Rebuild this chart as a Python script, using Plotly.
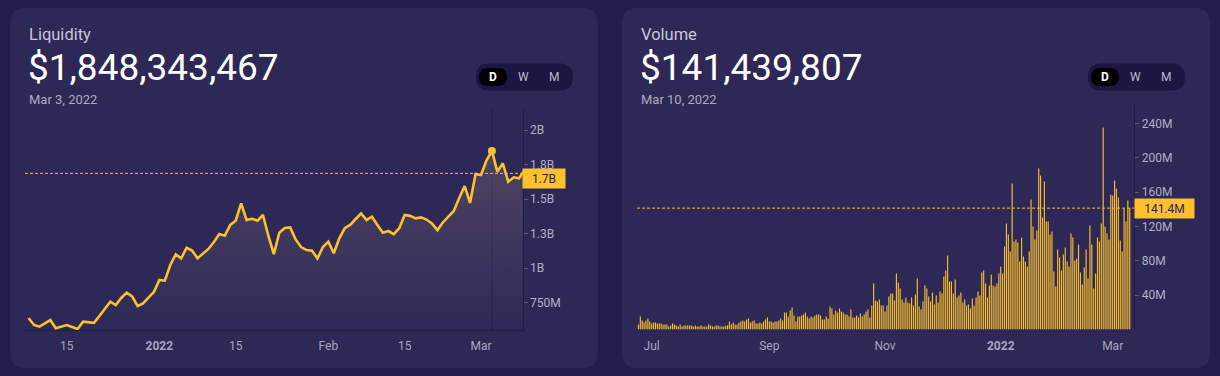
import plotly.graph_objects as go
import pandas as pd

W, H = 1220, 376


def px(x):
    return x / W


def py(y):
    return 1 - y / H


# ---------------- DATA ----------------
# Liquidity (millions USD), daily from 2021-12-08
liq_values_m = [
    638, 587, 575, 602, 623, 563, 576, 587, 572, 558,
    611, 605, 603, 652, 707, 756, 732, 783, 821, 794,
    725, 744, 786, 826, 913, 908, 1022, 1098, 1070, 1147,
    1127, 1070, 1105, 1138, 1188, 1246, 1234, 1312, 1343, 1469,
    1348, 1357, 1343, 1384, 1232, 1101, 1256, 1290, 1294, 1207,
    1152, 1130, 1125, 1070, 1152, 1191, 1107, 1215, 1288, 1312,
    1355, 1395, 1348, 1372, 1312, 1256, 1268, 1246, 1288, 1384,
    1378, 1360, 1367, 1351, 1322, 1275, 1330, 1370, 1413, 1507,
    1594, 1473, 1681, 1674, 1778, 1848.343467, 1698, 1759, 1625, 1657,
    1650, 1710,
]
liq_start = "2021-12-08"
liq_selected_date = "2022-03-03"
liq_selected_value = 1848343467
liq_guide = 1.686e9          # dashed guide line
liq_last = 1.65e9            # value shown in the axis label box
liq_last_label = "1.7B"

# Volume (millions USD), daily from 2021-06-24 to 2022-03-10
vol_values_m = [
    5.8, 15.1, 10.5, 8.2, 10.5, 12.8, 9.3, 7.0, 8.2, 8.2,
    7.0, 7.0, 7.0, 5.8, 5.8, 5.8, 3.5, 4.7, 7.0, 5.8,
    4.7, 3.5, 5.8, 3.5, 4.7, 4.7, 4.7, 4.7, 4.7, 3.5,
    4.7, 3.5, 3.5, 4.7, 3.5, 3.5, 3.5, 5.8, 4.7, 3.5, 3.5,
    4.7, 4.7, 3.5, 3.5, 3.5, 4.7, 4.7, 9.3, 5.8, 8.2,
    5.8, 5.8, 8.2, 9.3, 10.5, 9.3, 11.7, 12.8, 8.2, 9.3,
    10.5, 7.0, 7.0, 8.2, 7.0, 9.3, 11.7, 14.0, 9.3, 9.3,
    8.2, 9.3, 9.3, 10.5, 12.8, 10.5, 19.8, 19.8, 15.1, 22.1,
    25.6, 16.3, 9.3, 15.1, 15.1, 16.3, 17.5, 19.8, 15.1, 12.8,
    15.1, 14.0, 16.3, 17.5, 17.5, 16.3, 11.7, 11.7, 15.1, 12.8,
    26.8, 24.5, 17.5, 22.1, 19.8, 24.5, 21.0, 19.8, 17.5, 17.5,
    15.1, 23.3, 14.0, 14.0, 16.3, 14.0, 18.6, 15.1, 17.5, 21.0,
    23.3, 14.0, 28.0, 53.6, 33.8, 32.6, 35.0, 28.0, 28.0, 21.0,
    28.0, 38.4, 41.9, 41.9, 33.8, 65.2, 54.8, 47.8, 35.0, 31.5,
    37.3, 31.5, 30.3, 37.3, 28.0, 40.8, 59.4, 26.8, 23.3, 32.6,
    51.3, 47.8, 38.4,
    32.6, 43.1, 29.1, 39.6, 31.5, 44.3, 41.9, 61.7, 68.7, 86.2,
    55.9, 55.9, 41.9, 58.3, 37.3, 39.6, 43.1, 31.5, 35.0, 28.0,
    29.1, 24.5, 36.1, 28.0, 37.3, 44.3, 39.6, 66.4, 68.7, 53.6,
    37.3, 51.3, 64.1, 51.3, 50.1, 53.6, 65.2, 73.4, 65.2, 96.7,
    123.5, 110.7, 90.9, 170.1, 102.5, 104.9, 101.4, 79.2, 107.2, 85.0,
    79.2, 73.4, 90.9,
    151.5, 120.0, 104.9, 115.3, 187.6, 179.4, 130.5, 172.4, 125.8, 125.8,
    110.7, 114.2, 67.6, 50.1, 93.2, 83.9, 68.7, 87.4, 95.5, 79.2,
    73.4, 111.8, 107.2, 80.4, 82.7, 99.0, 66.4, 52.4, 72.2, 93.2,
    59.4, 121.2, 99.0, 47.8, 65.2, 107.2, 102.5, 123.5, 235.3, 120.0,
    111.8, 104.9, 157.3, 156.1, 173.6, 164.3, 153.8, 103.7, 90.9, 141.0,
    125.8, 150.3, 141.439807,
]
vol_end = "2022-03-10"
vol_selected_value = 141439807
vol_last_label = "141.4M"

liq_tick_vals = [750e6, 1e9, 1.25e9, 1.5e9, 1.75e9, 2e9]
liq_tick_text = ["750M", "1B", "1.3B", "1.5B", "1.8B", "2B"]
liq_x_tick_vals = ["2021-12-15", "2022-01-01", "2022-01-15", "2022-02-01", "2022-02-15", "2022-03-01"]
liq_x_tick_text = ["15", "<b>2022</b>", "15", "Feb", "15", "Mar"]

vol_tick_vals = [40e6, 80e6, 120e6, 160e6, 200e6, 240e6]
vol_tick_text = ["40M", "80M", "120M", "160M", "200M", "240M"]
vol_x_tick_vals = ["2021-07-01", "2021-09-01", "2021-11-01", "2022-01-01", "2022-03-01"]
vol_x_tick_text = ["Jul", "Sep", "Nov", "<b>2022</b>", "Mar"]

# ---------------- STYLE ----------------
PAGE = "#231d4d"
CARD = "#2d2856"
YELLOW = "#fcc12c"
TICK = "#b3afc8"
XTICK = "#a9a5bf"
AXLINE = "#221d47"
FONT = "Roboto"

liq_dates = pd.date_range(liq_start, periods=len(liq_values_m), freq="D")
liq = [v * 1e6 for v in liq_values_m]
vol_dates = pd.date_range(end=vol_end, periods=len(vol_values_m), freq="D")
vol = [v * 1e6 for v in vol_values_m]

fig = go.Figure()

fig.add_trace(go.Scatter(
    x=liq_dates, y=liq, mode="lines",
    line=dict(color=YELLOW, width=2.6),
    fill="tozeroy",
    fillgradient=dict(type="vertical", start=550e6, stop=1.9e9,
                      colorscale=[[0, "rgba(250,215,165,0.0)"], [1, "rgba(250,215,165,0.17)"]]),
    xaxis="x", yaxis="y", hoverinfo="skip", showlegend=False,
))
sel_idx = list(liq_dates.strftime("%Y-%m-%d")).index(liq_selected_date)
fig.add_trace(go.Scatter(
    x=[liq_dates[sel_idx]], y=[liq[sel_idx]], mode="markers",
    marker=dict(color=YELLOW, size=8), xaxis="x", yaxis="y", showlegend=False,
))

fig.add_trace(go.Bar(
    x=vol_dates, y=vol, marker=dict(color="rgba(252,193,44,0.99)", line=dict(width=0)),
    xaxis="x2", yaxis="y2", showlegend=False,
))


def rounded_rect(x0, y0, x1, y1, r):
    rx, ry = r / W, r / H
    X0, X1 = px(x0), px(x1)
    Y0, Y1 = py(y0), py(y1)  # Y0 top (larger), Y1 bottom
    return (f"M {X0+rx},{Y0} L {X1-rx},{Y0} Q {X1},{Y0} {X1},{Y0-ry} "
            f"L {X1},{Y1+ry} Q {X1},{Y1} {X1-rx},{Y1} L {X0+rx},{Y1} "
            f"Q {X0},{Y1} {X0},{Y1+ry} L {X0},{Y0-ry} Q {X0},{Y0} {X0+rx},{Y0} Z")


shapes = []
annotations = []

cards = [(10, 8, 598, 368), (622, 8, 1210, 368)]
for (x0, y0, x1, y1) in cards:
    shapes.append(dict(type="path", path=rounded_rect(x0, y0, x1, y1, 16),
                       xref="paper", yref="paper", fillcolor=CARD, line=dict(width=0), layer="below"))

headers = [
    (27, "Liquidity", f"${liq_selected_value:,}", "Mar 3, 2022", 476),
    (639, "Volume", f"${vol_selected_value:,}", "Mar 10, 2022", 1088),
]
for (x, title, big, date, pill_x) in headers:
    annotations.append(dict(x=px(x), y=py(34), xref="paper", yref="paper", text=title, showarrow=False,
                            xanchor="left", yanchor="middle", font=dict(family=FONT, size=16.5, color="#c9c6da")))
    annotations.append(dict(x=px(x - 1), y=py(67), xref="paper", yref="paper", text=big, showarrow=False,
                            xanchor="left", yanchor="middle", font=dict(family=FONT, size=37, color="#ffffff")))
    annotations.append(dict(x=px(x), y=py(99), xref="paper", yref="paper", text=date, showarrow=False,
                            xanchor="left", yanchor="middle", font=dict(family=FONT, size=13, color="#aeaac3")))
    # D / W / M pill
    shapes.append(dict(type="path", path=rounded_rect(pill_x, 63.5, pill_x + 97, 90.5, 13.5),
                       xref="paper", yref="paper", fillcolor="#1b1642", line=dict(width=0), layer="below"))
    shapes.append(dict(type="path", path=rounded_rect(pill_x + 3, 68, pill_x + 31, 86, 9),
                       xref="paper", yref="paper", fillcolor="#000000", line=dict(width=0), layer="below"))
    for lbl, dx, col, bold in [("D", 17, "#ffffff", True), ("W", 47, "#bdb9d1", False), ("M", 78, "#bdb9d1", False)]:
        annotations.append(dict(x=px(pill_x + dx), y=py(77.5), xref="paper", yref="paper",
                                text=f"<b>{lbl}</b>" if bold else lbl, showarrow=False,
                                xanchor="center", yanchor="middle", font=dict(family=FONT, size=12, color=col)))

# dashed guide lines and axis label boxes
shapes.append(dict(type="line", xref="x domain", yref="y", x0=0, x1=1, y0=liq_guide, y1=liq_guide,
                   line=dict(color=YELLOW, width=1, dash="3px,2px")))
shapes.append(dict(type="line", xref="x2 domain", yref="y2", x0=0, x1=1,
                   y0=vol[-1], y1=vol[-1], line=dict(color=YELLOW, width=1, dash="3px,2px")))
annotations.append(dict(x=px(522), y=liq_last, xref="paper", yref="y", text=liq_last_label,
                        showarrow=False, xanchor="left", yanchor="middle", bgcolor=YELLOW,
                        width=38, height=15, borderpad=2, align="center",
                        font=dict(family=FONT, size=12, color="#2a2450")))
annotations.append(dict(x=px(1134), y=vol[-1], xref="paper", yref="y2", text=vol_last_label,
                        showarrow=False, xanchor="left", yanchor="middle", bgcolor=YELLOW,
                        width=55, height=15, borderpad=2, align="center",
                        font=dict(family=FONT, size=12, color="#2a2450")))
shapes.append(dict(type="line", xref="paper", yref="y", x0=px(522.5), x1=px(527), y0=liq_last, y1=liq_last,
                   line=dict(color="#111111", width=1)))
shapes.append(dict(type="line", xref="paper", yref="y2", x0=px(1134.5), x1=px(1139), y0=vol[-1], y1=vol[-1],
                   line=dict(color="#111111", width=1)))
# crosshair at selected date
shapes.append(dict(type="line", xref="x", yref="y domain", x0=liq_dates[sel_idx], x1=liq_dates[sel_idx],
                   y0=0, y1=1, line=dict(color=AXLINE, width=1), layer="below"))

axis_common = dict(showgrid=False, zeroline=False, fixedrange=True)

fig.update_layout(
    width=W, height=H,
    margin=dict(l=0, r=0, t=0, b=0),
    paper_bgcolor=PAGE, plot_bgcolor="rgba(0,0,0,0)",
    showlegend=False, bargap=0.4,
    shapes=shapes, annotations=annotations,
    xaxis=dict(domain=[px(25), px(522.7)], range=["2021-12-07 08:24", "2022-03-08 15:36"], anchor="y",
               tickvals=liq_x_tick_vals, ticktext=liq_x_tick_text, ticks="outside", ticklen=5,
               tickcolor="rgba(0,0,0,0)", showline=True, linecolor=AXLINE,
               tickfont=dict(family=FONT, size=12, color=XTICK), **axis_common),
    yaxis=dict(domain=[py(330), py(108)], range=[550.8e6, 2159.4e6], anchor="x", side="right",
               tickvals=liq_tick_vals, ticktext=liq_tick_text, ticks="outside", ticklen=4, tickcolor="#5d5878",
               showline=True, linecolor=AXLINE,
               tickfont=dict(family=FONT, size=12, color=TICK), **axis_common),
    xaxis2=dict(domain=[px(637), px(1134.3)], range=["2021-06-23 06:00", "2022-03-12 09:36"], anchor="y2",
                tickvals=vol_x_tick_vals, ticktext=vol_x_tick_text, ticks="outside", ticklen=5,
                tickcolor="rgba(0,0,0,0)", showline=False,
                tickfont=dict(family=FONT, size=12, color=XTICK), **axis_common),
    yaxis2=dict(domain=[py(329.5), py(105)], range=[0, 261.6e6], anchor="x2", side="right",
                tickvals=vol_tick_vals, ticktext=vol_tick_text, ticks="outside", ticklen=4, tickcolor="#5d5878",
                showline=True, linecolor=AXLINE,
                tickfont=dict(family=FONT, size=12, color=TICK), **axis_common),
)

fig.write_html("out.html", config={"displayModeBar": False},
               post_script="document.body.style.margin='0';document.body.style.padding='0';")
